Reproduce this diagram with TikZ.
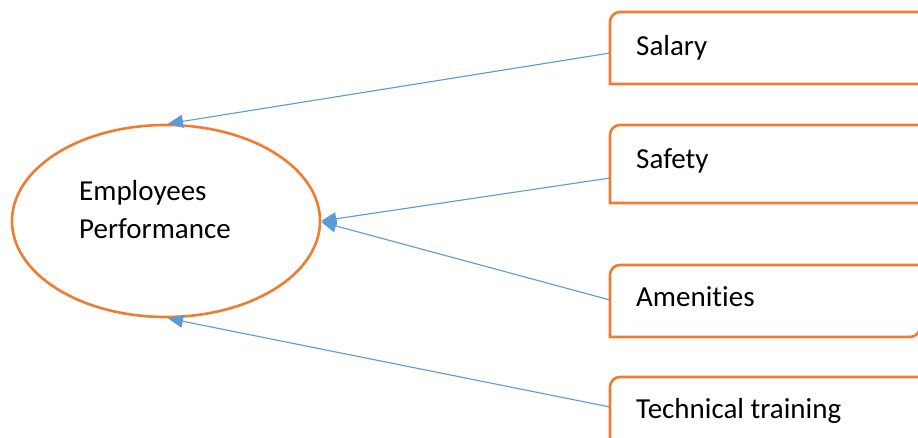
\documentclass[tikz,border=0pt]{standalone}
\usepackage{fontspec}
\setmainfont{Carlito}[Ligatures=NoCommon]
\usetikzlibrary{arrows.meta,shapes.geometric}
\definecolor{orng}{HTML}{ED7D31}
\definecolor{blu}{HTML}{5B9BD5}
\tikzset{
  boxnode/.style={draw=none, outer sep=0pt, inner sep=0pt, minimum width=#1, minimum height=72pt, anchor=north west},
  boxtext/.style={anchor=base west, inner sep=0pt, font=\fontsize{29}{38}\selectfont},
  boxline/.style={draw=orng, line width=2.6pt},
  conn/.style={draw=blu, line width=1.1pt, -{Triangle[length=15pt,width=13pt]}},
}
\begin{document}
\begin{tikzpicture}[x=1pt,y=1pt]
\useasboundingbox (0,0) rectangle (918,-437);
\fill[white] (0,0) rectangle (918,-437);
\begin{scope}
\clip (0,0) rectangle (918,-437);
% ellipse
\node[draw=orng, line width=2.6pt, ellipse, minimum width=308pt, minimum height=192pt, inner sep=0pt] (ep) at (166,-221) {};
\node[anchor=base west, inner sep=0pt, align=left, font=\fontsize{29}{38}\selectfont] (eplabel) at (79,-238) {Employees\\Performance};
% boxes
\node[boxnode=340pt] (sal) at (610,-12) {};
\node[boxnode=340pt, minimum height=78pt] (saf) at (610,-125) {};
\node[boxnode=310pt] (am) at (610,-265) {};
\node[boxnode=340pt] (tech) at (610,-377) {};
\foreach \b in {sal,saf,am,tech}{
  \draw[boxline] (\b.south west) -- ([yshift=-10pt]\b.north west) arc[start angle=180,end angle=90,radius=10pt] -- (\b.north east) -- ([yshift=10pt]\b.south east) arc[start angle=0,end angle=-90,radius=10pt] -- cycle;
}
\node[boxtext] (saltext) at (636,-55) {Salary};
\node[boxtext] (saftext) at (636,-168) {Safety};
\node[boxtext] (amtext) at (636,-306) {Amenities};
\node[boxtext] (techtext) at (636,-418) {Technical training};
% connectors
\draw[conn] ([yshift=-5pt]sal.west) -- ([xshift=2pt]ep.north);
\draw[conn] ([yshift=-14pt]saf.west) -- (ep.east);
\draw[conn] ([yshift=1pt]am.west) -- ([yshift=-1pt]ep.east);
\draw[conn] ([yshift=6pt]tech.west) -- ([xshift=2pt]ep.south);
\end{scope}
\end{tikzpicture}
\end{document}
